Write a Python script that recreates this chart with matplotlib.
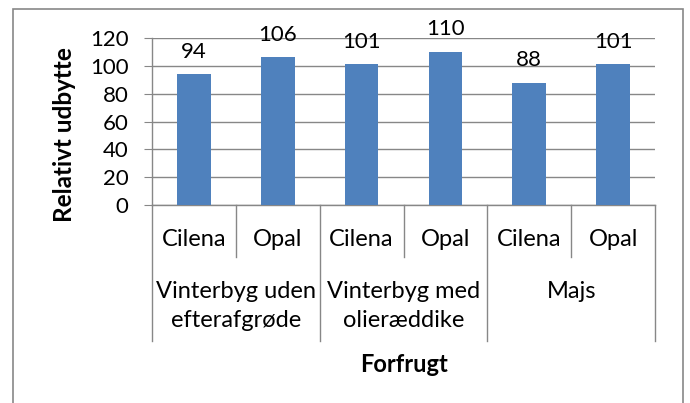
import matplotlib.pyplot as plt
from matplotlib.patches import Rectangle
import matplotlib.transforms as mtransforms

plt.rcParams["font.family"] = ["Lato", "DejaVu Sans"]

varieties = ["Cilena", "Opal", "Cilena", "Opal", "Cilena", "Opal"]
groups = ["Vinterbyg uden\nefterafgrøde", "Vinterbyg med\nolieræddike", "Majs"]
values = [94, 106, 101, 110, 88, 101]
yticks = [0, 20, 40, 60, 80, 100, 120]

W, H = 690, 403
fig = plt.figure(figsize=(W / 100, H / 100), dpi=100)

# plot area in pixels
x0, x1, ytop, ybot = 152, 655, 38, 205
ax = fig.add_axes([x0 / W, 1 - ybot / H, (x1 - x0) / W, (ybot - ytop) / H])

grey = "#878787"
blue = "#4F81BD"

x = list(range(len(values)))
ax.bar(x, values, width=0.4, color=blue, zorder=3)
for xi, v in zip(x, values):
    ax.annotate(str(v), (xi, v), xytext=(0, 9), textcoords="offset points",
                ha="center", va="bottom", fontsize=16)

ax.set_xlim(-0.5, len(values) - 0.5)
ax.set_ylim(0, 120)
ax.set_yticks(yticks)
ax.yaxis.grid(True, color=grey, linewidth=1)
ax.set_axisbelow(True)
for s in ["top", "right"]:
    ax.spines[s].set_visible(False)
for s in ["left", "bottom"]:
    ax.spines[s].set_color(grey)
    ax.spines[s].set_linewidth(1)
ax.tick_params(axis="y", length=6, color=grey, labelsize=16, pad=11)
ax.set_xticks([])

# category axis: separators and two-level labels
tr = mtransforms.blended_transform_factory(ax.transData, ax.transAxes)
h = ybot - ytop
def ay(py):
    return (ybot - py) / h

for b in [0.5, 2.5, 4.5]:
    ax.plot([b, b], [0, ay(257)], color=grey, lw=1, transform=tr, clip_on=False)
for b in [-0.5, 1.5, 3.5, 5.5]:
    ax.plot([b, b], [0, ay(341)], color=grey, lw=1, transform=tr, clip_on=False)

for xi, lab in zip(x, varieties):
    ax.text(xi, ay(240), lab, transform=tr, ha="center", va="center", fontsize=17)
for gi, lab in enumerate(groups):
    ax.text(2 * gi + 0.5, ay(281), lab, transform=tr, ha="center", va="top",
            fontsize=17, linespacing=1.45)

ax.text(0.5, ay(364), "Forfrugt", transform=ax.transAxes, ha="center", va="center",
        fontsize=17, fontweight="bold")
fig.text(64 / W, 1 - 135 / H, "Relativt udbytte", rotation=90, ha="center", va="center",
         fontsize=17.5, fontweight="bold")

# outer chart border
fig.patches.append(Rectangle((13 / W, -0.05), (683 - 13) / W, 1 - 9 / H + 0.05,
                             transform=fig.transFigure, fill=False,
                             edgecolor=grey, linewidth=1.2))

fig.savefig("out.png", dpi=100)
